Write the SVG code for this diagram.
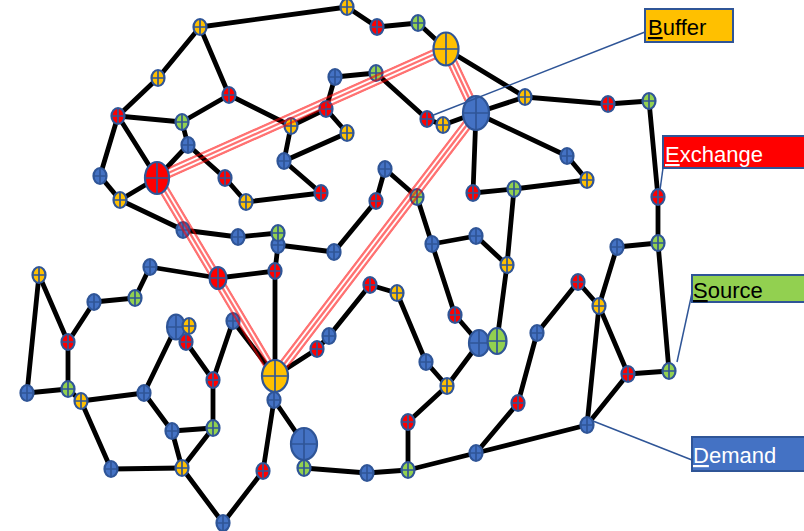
<svg xmlns="http://www.w3.org/2000/svg" width="804" height="531" viewBox="0 0 804 531">
<defs>
<style>
.e line{stroke:#000;stroke-width:4.8;stroke-linecap:round}
.n ellipse{stroke:#2F5597;stroke-width:2.2}
.n path{stroke:#2F5597;stroke-width:1.7;fill:none}
.r ellipse{fill:#FF0000}
.y ellipse{fill:#FFC000}
.g ellipse{fill:#92D050}
.b ellipse{fill:#4472C4}
.lead{stroke:#2F5597;stroke-width:1.5;fill:none}
.box{stroke:#2F5597;stroke-width:2}
.lbl{font-family:"Liberation Sans",Arial,sans-serif;font-size:22px}
.band line{stroke:#FF0000;stroke-width:11;stroke-linecap:butt}
</style>
<mask id="bm" maskUnits="userSpaceOnUse" x="0" y="0" width="804" height="531">
<g fill="none" stroke-linecap="butt">
<g stroke="#fff" stroke-width="11">
<line x1="157" y1="178" x2="446" y2="49"/><line x1="446" y1="49" x2="476" y2="113"/><line x1="476" y1="113" x2="275" y2="376"/><line x1="157" y1="178" x2="275" y2="376"/>
</g>
<g stroke="#000" stroke-width="6">
<line x1="157" y1="178" x2="446" y2="49"/><line x1="446" y1="49" x2="476" y2="113"/><line x1="476" y1="113" x2="275" y2="376"/><line x1="157" y1="178" x2="275" y2="376"/>
</g>
<g stroke="#fff" stroke-width="2.4">
<line x1="157" y1="178" x2="446" y2="49"/><line x1="446" y1="49" x2="476" y2="113"/><line x1="476" y1="113" x2="275" y2="376"/><line x1="157" y1="178" x2="275" y2="376"/>
</g>
</g>
</mask>
</defs>
<rect width="804" height="531" fill="#fff"/>

<g id="connectors" class="e">
<line x1="200" y1="27" x2="347" y2="7"/>
<line x1="200" y1="27" x2="158" y2="78"/>
<line x1="200" y1="27" x2="229" y2="95"/>
<line x1="158" y1="78" x2="118" y2="116"/>
<line x1="118" y1="116" x2="182" y2="122"/>
<line x1="182" y1="122" x2="229" y2="95"/>
<line x1="182" y1="122" x2="188" y2="145"/>
<line x1="118" y1="116" x2="100" y2="176"/>
<line x1="118" y1="116" x2="157" y2="178"/>
<line x1="100" y1="176" x2="120" y2="200"/>
<line x1="120" y1="200" x2="157" y2="178"/>
<line x1="157" y1="178" x2="188" y2="145"/>
<line x1="188" y1="145" x2="225" y2="178"/>
<line x1="225" y1="178" x2="246" y2="202"/>
<line x1="246" y1="202" x2="321" y2="193"/>
<line x1="120" y1="200" x2="183" y2="230"/>
<line x1="183" y1="230" x2="238" y2="237"/>
<line x1="238" y1="237" x2="278" y2="233"/>
<line x1="278" y1="245" x2="334" y2="252"/>
<line x1="278" y1="245" x2="275" y2="271"/>
<line x1="334" y1="252" x2="376" y2="201"/>
<line x1="376" y1="201" x2="385" y2="169"/>
<line x1="385" y1="169" x2="417" y2="197"/>
<line x1="417" y1="197" x2="432" y2="244"/>
<line x1="432" y1="244" x2="476" y2="236"/>
<line x1="476" y1="236" x2="507" y2="265"/>
<line x1="507" y1="265" x2="514" y2="189"/>
<line x1="514" y1="189" x2="473" y2="193"/>
<line x1="473" y1="193" x2="476" y2="113"/>
<line x1="514" y1="189" x2="587" y2="180"/>
<line x1="587" y1="180" x2="567" y2="156"/>
<line x1="567" y1="156" x2="476" y2="113"/>
<line x1="476" y1="113" x2="525" y2="97"/>
<line x1="476" y1="113" x2="443" y2="125"/>
<line x1="443" y1="125" x2="427" y2="119"/>
<line x1="427" y1="119" x2="376" y2="73"/>
<line x1="376" y1="73" x2="335" y2="77"/>
<line x1="335" y1="77" x2="326" y2="109"/>
<line x1="326" y1="109" x2="291" y2="126"/>
<line x1="326" y1="109" x2="347" y2="133"/>
<line x1="347" y1="133" x2="284" y2="161"/>
<line x1="291" y1="126" x2="284" y2="161"/>
<line x1="229" y1="95" x2="291" y2="126"/>
<line x1="284" y1="161" x2="321" y2="193"/>
<line x1="347" y1="7" x2="377" y2="27"/>
<line x1="377" y1="27" x2="418" y2="23"/>
<line x1="418" y1="23" x2="446" y2="49"/>
<line x1="446" y1="49" x2="525" y2="97"/>
<line x1="525" y1="97" x2="608" y2="104"/>
<line x1="608" y1="104" x2="649" y2="101"/>
<line x1="649" y1="101" x2="658" y2="197"/>
<line x1="658" y1="197" x2="658" y2="243"/>
<line x1="658" y1="243" x2="617" y2="247"/>
<line x1="658" y1="243" x2="669" y2="371"/>
<line x1="617" y1="247" x2="599" y2="306"/>
<line x1="599" y1="306" x2="578" y2="282"/>
<line x1="578" y1="282" x2="537" y2="333"/>
<line x1="537" y1="333" x2="518" y2="403"/>
<line x1="599" y1="306" x2="587" y2="425"/>
<line x1="599" y1="306" x2="628" y2="374"/>
<line x1="628" y1="374" x2="669" y2="371"/>
<line x1="628" y1="374" x2="587" y2="425"/>
<line x1="587" y1="425" x2="476" y2="453"/>
<line x1="476" y1="453" x2="518" y2="403"/>
<line x1="476" y1="453" x2="408" y2="470"/>
<line x1="408" y1="470" x2="408" y2="422"/>
<line x1="408" y1="470" x2="367" y2="473"/>
<line x1="367" y1="473" x2="304" y2="468"/>
<line x1="408" y1="422" x2="447" y2="386"/>
<line x1="447" y1="386" x2="426" y2="362"/>
<line x1="426" y1="362" x2="397" y2="293"/>
<line x1="397" y1="293" x2="370" y2="285"/>
<line x1="370" y1="285" x2="329" y2="336"/>
<line x1="329" y1="336" x2="317" y2="349"/>
<line x1="317" y1="349" x2="275" y2="376"/>
<line x1="447" y1="386" x2="479" y2="343"/>
<line x1="479" y1="343" x2="455" y2="315"/>
<line x1="455" y1="315" x2="432" y2="244"/>
<line x1="497" y1="341" x2="507" y2="265"/>
<line x1="275" y1="271" x2="275" y2="376"/>
<line x1="275" y1="376" x2="274" y2="400"/>
<line x1="275" y1="271" x2="218" y2="278"/>
<line x1="218" y1="278" x2="150" y2="267"/>
<line x1="150" y1="267" x2="135" y2="298"/>
<line x1="135" y1="298" x2="94" y2="302"/>
<line x1="94" y1="302" x2="68" y2="342"/>
<line x1="68" y1="342" x2="39" y2="275"/>
<line x1="39" y1="275" x2="27" y2="393"/>
<line x1="27" y1="393" x2="68" y2="389"/>
<line x1="68" y1="342" x2="68" y2="389"/>
<line x1="68" y1="389" x2="81" y2="401"/>
<line x1="81" y1="401" x2="144" y2="393"/>
<line x1="81" y1="401" x2="111" y2="469"/>
<line x1="111" y1="469" x2="182" y2="468"/>
<line x1="144" y1="393" x2="176" y2="327"/>
<line x1="144" y1="393" x2="172" y2="431"/>
<line x1="172" y1="431" x2="213" y2="428"/>
<line x1="172" y1="431" x2="182" y2="468"/>
<line x1="213" y1="428" x2="182" y2="468"/>
<line x1="213" y1="428" x2="213" y2="380"/>
<line x1="213" y1="380" x2="233" y2="321"/>
<line x1="186" y1="342" x2="213" y2="380"/>
<line x1="233" y1="321" x2="275" y2="376"/>
<line x1="182" y1="468" x2="223" y2="523"/>
<line x1="223" y1="523" x2="263" y2="471"/>
<line x1="263" y1="471" x2="274" y2="400"/>
<line x1="274" y1="400" x2="304" y2="444"/>
</g>

<g id="small-nodes">
<g id="n-a1" class="n y" transform="translate(347,7)"><ellipse rx="6.5" ry="8"/><path d="M-6.5 0H6.5M0-8V8"/></g>
<g id="n-a2" class="n r" transform="translate(377,27)"><ellipse rx="6.5" ry="8"/><path d="M-6.5 0H6.5M0-8V8"/></g>
<g id="n-a3" class="n g" transform="translate(418,23)"><ellipse rx="6.5" ry="8"/><path d="M-6.5 0H6.5M0-8V8"/></g>
<g id="n-n1" class="n y" transform="translate(200,27)"><ellipse rx="6.5" ry="8"/><path d="M-6.5 0H6.5M0-8V8"/></g>
<g id="n-n2" class="n y" transform="translate(158,78)"><ellipse rx="6.5" ry="8"/><path d="M-6.5 0H6.5M0-8V8"/></g>
<g id="n-n3" class="n r" transform="translate(229,95)"><ellipse rx="6.5" ry="8"/><path d="M-6.5 0H6.5M0-8V8"/></g>
<g id="n-n4" class="n r" transform="translate(118,116)"><ellipse rx="6.5" ry="8"/><path d="M-6.5 0H6.5M0-8V8"/></g>
<g id="n-n5" class="n g" transform="translate(182,122)"><ellipse rx="6.5" ry="8"/><path d="M-6.5 0H6.5M0-8V8"/></g>
<g id="n-n6" class="n b" transform="translate(188,145)"><ellipse rx="6.5" ry="8"/><path d="M-6.5 0H6.5M0-8V8"/></g>
<g id="n-n8" class="n b" transform="translate(100,176)"><ellipse rx="6.5" ry="8"/><path d="M-6.5 0H6.5M0-8V8"/></g>
<g id="n-n9" class="n y" transform="translate(120,200)"><ellipse rx="6.5" ry="8"/><path d="M-6.5 0H6.5M0-8V8"/></g>
<g id="n-n10" class="n r" transform="translate(225,178)"><ellipse rx="6.5" ry="8"/><path d="M-6.5 0H6.5M0-8V8"/></g>
<g id="n-n11" class="n y" transform="translate(246,202)"><ellipse rx="6.5" ry="8"/><path d="M-6.5 0H6.5M0-8V8"/></g>
<g id="n-n12" class="n b" transform="translate(183,230)"><ellipse rx="6.5" ry="8"/><path d="M-6.5 0H6.5M0-8V8"/></g>
<g id="n-n13" class="n b" transform="translate(238,237)"><ellipse rx="6.5" ry="8"/><path d="M-6.5 0H6.5M0-8V8"/></g>
<g id="n-a5" class="n b" transform="translate(335,77)"><ellipse rx="6.5" ry="8"/><path d="M-6.5 0H6.5M0-8V8"/></g>
<g id="n-a6" class="n g" transform="translate(376,73)"><ellipse rx="6.5" ry="8"/><path d="M-6.5 0H6.5M0-8V8"/></g>
<g id="n-a7" class="n r" transform="translate(326,109)"><ellipse rx="6.5" ry="8"/><path d="M-6.5 0H6.5M0-8V8"/></g>
<g id="n-a8" class="n y" transform="translate(291,126)"><ellipse rx="6.5" ry="8"/><path d="M-6.5 0H6.5M0-8V8"/></g>
<g id="n-a9" class="n y" transform="translate(347,133)"><ellipse rx="6.5" ry="8"/><path d="M-6.5 0H6.5M0-8V8"/></g>
<g id="n-a10" class="n b" transform="translate(284,161)"><ellipse rx="6.5" ry="8"/><path d="M-6.5 0H6.5M0-8V8"/></g>
<g id="n-a11" class="n r" transform="translate(321,193)"><ellipse rx="6.5" ry="8"/><path d="M-6.5 0H6.5M0-8V8"/></g>
<g id="n-a12" class="n r" transform="translate(427,119)"><ellipse rx="6.5" ry="8"/><path d="M-6.5 0H6.5M0-8V8"/></g>
<g id="n-a13" class="n y" transform="translate(443,125)"><ellipse rx="6.5" ry="8"/><path d="M-6.5 0H6.5M0-8V8"/></g>
<g id="n-a15" class="n y" transform="translate(525,97)"><ellipse rx="6.5" ry="8"/><path d="M-6.5 0H6.5M0-8V8"/></g>
<g id="n-b2" class="n r" transform="translate(608,104)"><ellipse rx="6.5" ry="8"/><path d="M-6.5 0H6.5M0-8V8"/></g>
<g id="n-b3" class="n g" transform="translate(649,101)"><ellipse rx="6.5" ry="8"/><path d="M-6.5 0H6.5M0-8V8"/></g>
<g id="n-b4" class="n b" transform="translate(567,156)"><ellipse rx="6.5" ry="8"/><path d="M-6.5 0H6.5M0-8V8"/></g>
<g id="n-b5" class="n y" transform="translate(587,180)"><ellipse rx="6.5" ry="8"/><path d="M-6.5 0H6.5M0-8V8"/></g>
<g id="n-a16" class="n b" transform="translate(385,169)"><ellipse rx="6.5" ry="8"/><path d="M-6.5 0H6.5M0-8V8"/></g>
<g id="n-a17" class="n r" transform="translate(376,201)"><ellipse rx="6.5" ry="8"/><path d="M-6.5 0H6.5M0-8V8"/></g>
<g id="n-a18" class="n g" transform="translate(417,197)"><ellipse rx="6.5" ry="8"/><path d="M-6.5 0H6.5M0-8V8"/></g>
<g id="n-a19" class="n r" transform="translate(473,193)"><ellipse rx="6.5" ry="8"/><path d="M-6.5 0H6.5M0-8V8"/></g>
<g id="n-a20" class="n g" transform="translate(514,189)"><ellipse rx="6.5" ry="8"/><path d="M-6.5 0H6.5M0-8V8"/></g>
<g id="n-a21" class="n b" transform="translate(432,244)"><ellipse rx="6.5" ry="8"/><path d="M-6.5 0H6.5M0-8V8"/></g>
<g id="n-a22" class="n b" transform="translate(476,236)"><ellipse rx="6.5" ry="8"/><path d="M-6.5 0H6.5M0-8V8"/></g>
<g id="n-a23" class="n y" transform="translate(507,265)"><ellipse rx="6.5" ry="8"/><path d="M-6.5 0H6.5M0-8V8"/></g>
<g id="n-a24" class="n b" transform="translate(334,252)"><ellipse rx="6.5" ry="8"/><path d="M-6.5 0H6.5M0-8V8"/></g>
<g id="n-a26" class="n b" transform="translate(278,245)"><ellipse rx="6.5" ry="8"/><path d="M-6.5 0H6.5M0-8V8"/></g>
<g id="n-a25" class="n g" transform="translate(278,233)"><ellipse rx="6.5" ry="8"/><path d="M-6.5 0H6.5M0-8V8"/></g>
<g id="n-d1" class="n r" transform="translate(275,271)"><ellipse rx="6.5" ry="8"/><path d="M-6.5 0H6.5M0-8V8"/></g>
<g id="n-b6" class="n r" transform="translate(658,197)"><ellipse rx="6.5" ry="8"/><path d="M-6.5 0H6.5M0-8V8"/></g>
<g id="n-b7" class="n g" transform="translate(658,243)"><ellipse rx="6.5" ry="8"/><path d="M-6.5 0H6.5M0-8V8"/></g>
<g id="n-b8" class="n b" transform="translate(617,247)"><ellipse rx="6.5" ry="8"/><path d="M-6.5 0H6.5M0-8V8"/></g>
<g id="n-c1" class="n y" transform="translate(39,275)"><ellipse rx="6.5" ry="8"/><path d="M-6.5 0H6.5M0-8V8"/></g>
<g id="n-c2" class="n b" transform="translate(150,267)"><ellipse rx="6.5" ry="8"/><path d="M-6.5 0H6.5M0-8V8"/></g>
<g id="n-c4" class="n b" transform="translate(94,302)"><ellipse rx="6.5" ry="8"/><path d="M-6.5 0H6.5M0-8V8"/></g>
<g id="n-c5" class="n g" transform="translate(135,298)"><ellipse rx="6.5" ry="8"/><path d="M-6.5 0H6.5M0-8V8"/></g>
<g id="n-c6" class="n r" transform="translate(68,342)"><ellipse rx="6.5" ry="8"/><path d="M-6.5 0H6.5M0-8V8"/></g>
<g id="n-c7" class="n b" transform="translate(176,327)"><ellipse rx="9" ry="12.5"/><path d="M-9 0H9M0-12.5V12.5"/></g>
<g id="n-c8" class="n y" transform="translate(189,326)"><ellipse rx="6.5" ry="8"/><path d="M-6.5 0H6.5M0-8V8"/></g>
<g id="n-c9" class="n r" transform="translate(186,342)"><ellipse rx="6.5" ry="8"/><path d="M-6.5 0H6.5M0-8V8"/></g>
<g id="n-c10" class="n b" transform="translate(233,321)"><ellipse rx="6.5" ry="8"/><path d="M-6.5 0H6.5M0-8V8"/></g>
<g id="n-c11" class="n r" transform="translate(213,380)"><ellipse rx="6.5" ry="8"/><path d="M-6.5 0H6.5M0-8V8"/></g>
<g id="n-c12" class="n b" transform="translate(27,393)"><ellipse rx="6.5" ry="8"/><path d="M-6.5 0H6.5M0-8V8"/></g>
<g id="n-c13" class="n g" transform="translate(68,389)"><ellipse rx="6.5" ry="8"/><path d="M-6.5 0H6.5M0-8V8"/></g>
<g id="n-c14" class="n y" transform="translate(81,401)"><ellipse rx="6.5" ry="8"/><path d="M-6.5 0H6.5M0-8V8"/></g>
<g id="n-c15" class="n b" transform="translate(144,393)"><ellipse rx="6.5" ry="8"/><path d="M-6.5 0H6.5M0-8V8"/></g>
<g id="n-c16" class="n b" transform="translate(172,431)"><ellipse rx="6.5" ry="8"/><path d="M-6.5 0H6.5M0-8V8"/></g>
<g id="n-c17" class="n g" transform="translate(213,428)"><ellipse rx="6.5" ry="8"/><path d="M-6.5 0H6.5M0-8V8"/></g>
<g id="n-c18" class="n b" transform="translate(111,469)"><ellipse rx="6.5" ry="8"/><path d="M-6.5 0H6.5M0-8V8"/></g>
<g id="n-c19" class="n y" transform="translate(182,468)"><ellipse rx="6.5" ry="8"/><path d="M-6.5 0H6.5M0-8V8"/></g>
<g id="n-c20" class="n b" transform="translate(223,523)"><ellipse rx="6.5" ry="8"/><path d="M-6.5 0H6.5M0-8V8"/></g>
<g id="n-c21" class="n r" transform="translate(263,471)"><ellipse rx="6.5" ry="8"/><path d="M-6.5 0H6.5M0-8V8"/></g>
<g id="n-d2" class="n r" transform="translate(370,285)"><ellipse rx="6.5" ry="8"/><path d="M-6.5 0H6.5M0-8V8"/></g>
<g id="n-d3" class="n y" transform="translate(397,293)"><ellipse rx="6.5" ry="8"/><path d="M-6.5 0H6.5M0-8V8"/></g>
<g id="n-d4" class="n b" transform="translate(329,336)"><ellipse rx="6.5" ry="8"/><path d="M-6.5 0H6.5M0-8V8"/></g>
<g id="n-d5" class="n r" transform="translate(317,349)"><ellipse rx="6.5" ry="8"/><path d="M-6.5 0H6.5M0-8V8"/></g>
<g id="n-d6" class="n r" transform="translate(455,315)"><ellipse rx="6.5" ry="8"/><path d="M-6.5 0H6.5M0-8V8"/></g>
<g id="n-d7" class="n b" transform="translate(479,343)"><ellipse rx="10" ry="13"/><path d="M-10 0H10M0-13V13"/></g>
<g id="n-d8" class="n g" transform="translate(497,341)"><ellipse rx="9.5" ry="13"/><path d="M-9.5 0H9.5M0-13V13"/></g>
<g id="n-d9" class="n b" transform="translate(426,362)"><ellipse rx="6.5" ry="8"/><path d="M-6.5 0H6.5M0-8V8"/></g>
<g id="n-d10" class="n y" transform="translate(447,386)"><ellipse rx="6.5" ry="8"/><path d="M-6.5 0H6.5M0-8V8"/></g>
<g id="n-d11" class="n r" transform="translate(408,422)"><ellipse rx="6.5" ry="8"/><path d="M-6.5 0H6.5M0-8V8"/></g>
<g id="n-d12" class="n r" transform="translate(518,403)"><ellipse rx="6.5" ry="8"/><path d="M-6.5 0H6.5M0-8V8"/></g>
<g id="n-d15" class="n b" transform="translate(367,473)"><ellipse rx="6.5" ry="8"/><path d="M-6.5 0H6.5M0-8V8"/></g>
<g id="n-d16" class="n g" transform="translate(408,470)"><ellipse rx="6.5" ry="8"/><path d="M-6.5 0H6.5M0-8V8"/></g>
<g id="n-d17" class="n b" transform="translate(476,453)"><ellipse rx="6.5" ry="8"/><path d="M-6.5 0H6.5M0-8V8"/></g>
<g id="n-e1" class="n r" transform="translate(578,282)"><ellipse rx="6.5" ry="8"/><path d="M-6.5 0H6.5M0-8V8"/></g>
<g id="n-e2" class="n y" transform="translate(599,306)"><ellipse rx="6.5" ry="8"/><path d="M-6.5 0H6.5M0-8V8"/></g>
<g id="n-e3" class="n b" transform="translate(537,333)"><ellipse rx="6.5" ry="8"/><path d="M-6.5 0H6.5M0-8V8"/></g>
<g id="n-e4" class="n r" transform="translate(628,374)"><ellipse rx="6.5" ry="8"/><path d="M-6.5 0H6.5M0-8V8"/></g>
<g id="n-e5" class="n g" transform="translate(669,371)"><ellipse rx="6.5" ry="8"/><path d="M-6.5 0H6.5M0-8V8"/></g>
<g id="n-e6" class="n b" transform="translate(587,425)"><ellipse rx="6.5" ry="8"/><path d="M-6.5 0H6.5M0-8V8"/></g>
<g id="n-d0" class="n b" transform="translate(274,400)"><ellipse rx="6.5" ry="8"/><path d="M-6.5 0H6.5M0-8V8"/></g>
</g>

<g id="bands" class="band" mask="url(#bm)" opacity="0.55">
<line x1="157" y1="178" x2="446" y2="49"/>
<line x1="446" y1="49" x2="476" y2="113"/>
<line x1="476" y1="113" x2="275" y2="376"/>
<line x1="157" y1="178" x2="275" y2="376"/>
</g>

<g id="big-nodes">
<g id="n-c3" class="n r" transform="translate(218,278)"><ellipse rx="8.5" ry="11"/><path d="M-8.5 0H8.5M0-11V11"/></g>
<g id="n-exchange-hub" class="n r" transform="translate(157,178)"><ellipse rx="12" ry="16"/><path d="M-12 0H12M0-16V16"/></g>
<g id="n-buffer-top" class="n y" transform="translate(446,49)"><ellipse rx="12.5" ry="16.5"/><path d="M-12.5 0H12.5M0-16.5V16.5"/></g>
<g id="n-demand-top" class="n b" transform="translate(476,113)"><ellipse rx="13" ry="17"/><path d="M-13 0H13M0-17V17"/></g>
<g id="n-buffer-bottom" class="n y" transform="translate(275,376)"><ellipse rx="13" ry="16"/><path d="M-13 0H13M0-16V16"/></g>
<g id="n-d13" class="n b" transform="translate(304,444)"><ellipse rx="13" ry="16"/><path d="M-13 0H13M0-16V16"/></g>
<g id="n-d14" class="n g" transform="translate(304,468)"><ellipse rx="6.5" ry="8"/><path d="M-6.5 0H6.5M0-8V8"/></g>
</g>

<g id="legend">
<g id="lg-buffer">
<line class="lead" x1="645" y1="32" x2="431" y2="116"/>
<rect class="box" x="645" y="9" width="88" height="33" fill="#FFC000"/>
<text class="lbl" x="648" y="35" fill="#000"><tspan style="text-decoration:underline">B</tspan>uffer</text>
</g>
<g id="lg-exchange">
<line class="lead" x1="663" y1="168" x2="660" y2="190"/>
<rect class="box" x="663" y="136" width="150" height="32" fill="#FF0000"/>
<text class="lbl" x="665" y="162" fill="#fff"><tspan style="text-decoration:underline">E</tspan>xchange</text>
</g>
<g id="lg-source">
<line class="lead" x1="692" y1="293" x2="677" y2="362"/>
<rect class="box" x="692" y="275" width="120" height="27" fill="#92D050"/>
<text class="lbl" x="693" y="298" fill="#000"><tspan style="text-decoration:underline">S</tspan>ource</text>
</g>
<g id="lg-demand">
<line class="lead" x1="692" y1="460" x2="593" y2="421"/>
<rect class="box" x="692" y="437" width="120" height="34" fill="#4472C4"/>
<text class="lbl" x="693" y="463" fill="#fff"><tspan style="text-decoration:underline">D</tspan>emand</text>
</g>
</g>
</svg>
